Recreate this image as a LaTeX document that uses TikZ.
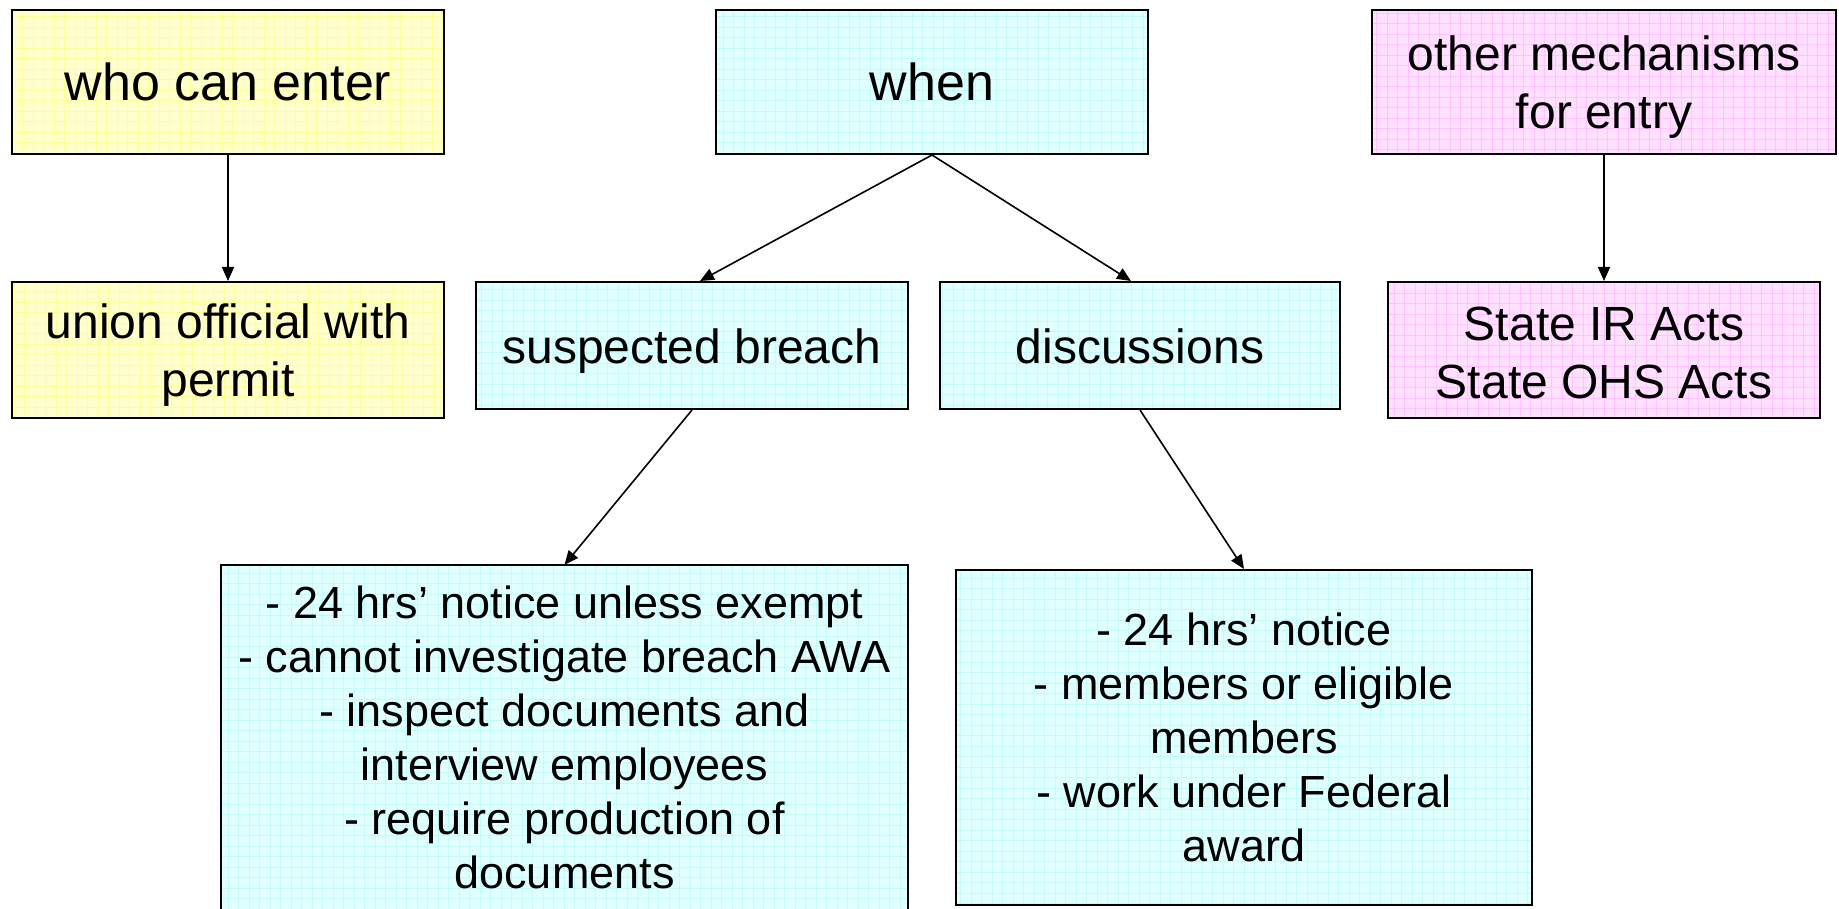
\documentclass[tikz,border=0pt]{standalone}
\usepackage{fontspec}
\setmainfont{Liberation Sans}
\usetikzlibrary{arrows.meta}
\definecolor{ylwfill}{HTML}{FFFFCC}
\definecolor{ylwgrid}{HTML}{FFFF99}
\definecolor{cyanfill}{HTML}{E0FFFF}
\definecolor{cyangrid}{HTML}{C4FAFA}
\definecolor{pinkfill}{HTML}{FFE0FF}
\definecolor{pinkgrid}{HTML}{FFC4FF}
\newcommand{\lowerby}[1]{\rule{0pt}{#1}}
\tikzset{
  gridbox/.style={rectangle, inner sep=0pt, align=center,
    path picture={\draw[#1, line width=0.7pt] (path picture bounding box.south west) grid[step=10.5pt] (path picture bounding box.north east);}},
  ybox/.style={gridbox=ylwgrid, fill=ylwfill, draw=black, line width=2pt},
  cbox/.style={gridbox=cyangrid, fill=cyanfill, draw=black, line width=2pt},
  pbox/.style={gridbox=pinkgrid, fill=pinkfill, draw=black, line width=2pt},
  bigtxt/.style={font=\fontsize{52}{62}\selectfont},
  midtxt/.style={font=\fontsize{48}{58}\selectfont},
  oneline/.style={text height=45pt, text depth=10pt},
  smalltxt/.style={font=\fontsize{45}{54}\selectfont},
  conn/.style={draw=black, line width=1.6pt, -{Triangle[length=14pt,width=12pt]}}
}
\begin{document}
\begin{tikzpicture}[x=1pt,y=-1pt]
\useasboundingbox (0,0) rectangle (1839,909);
\fill[white] (0,0) rectangle (1839,909);
\node[ybox, bigtxt, minimum width=432pt, minimum height=144pt] (who) at (228,82) {who can enter};
\node[cbox, bigtxt, minimum width=432pt, minimum height=144pt] (when) at (932,82) {when};
\node[pbox, midtxt, minimum width=464pt, minimum height=144pt] (other) at (1604,82) {\lowerby{45pt}other mechanisms\\for entry};
\node[ybox, midtxt, minimum width=432pt, minimum height=136pt] (union) at (228,350) {\lowerby{45pt}union official with\\permit};
\node[cbox, midtxt, oneline, minimum width=432pt, minimum height=127pt] (sb) at (692,345.5) {suspected breach};
\node[cbox, midtxt, oneline, minimum width=400pt, minimum height=127pt] (disc) at (1140,345.5) {discussions};
\node[pbox, midtxt, minimum width=432pt, minimum height=136pt] (state) at (1604,350) {\lowerby{39pt}State IR Acts\\State OHS Acts};
\node[gridbox=cyangrid, fill=cyanfill, smalltxt, minimum width=687pt, minimum height=344pt] (bl) at (564.5,737) {- 24 hrs’ notice unless exempt\\- cannot investigate breach AWA\\- inspect documents and\\interview employees\\- require production of\\documents};
\draw[black, line width=2pt] (bl.south west) -- (bl.north west) -- (bl.north east) -- (bl.south east);
\node[cbox, smalltxt, minimum width=576pt, minimum height=335pt] (br) at (1244,737.5) {- 24 hrs’ notice\\- members or eligible\\members\\- work under Federal\\award};
\draw[conn] (who.south) -- (union.north);
\draw[conn] (when.south) -- ([xshift=8pt]sb.north);
\draw[conn] (when.south) -- ([xshift=-9pt]disc.north);
\draw[conn] (other.south) -- (state.north);
\draw[conn] (sb.south) -- (bl.north);
\draw[conn] (disc.south) -- (br.north);
\end{tikzpicture}
\end{document}
